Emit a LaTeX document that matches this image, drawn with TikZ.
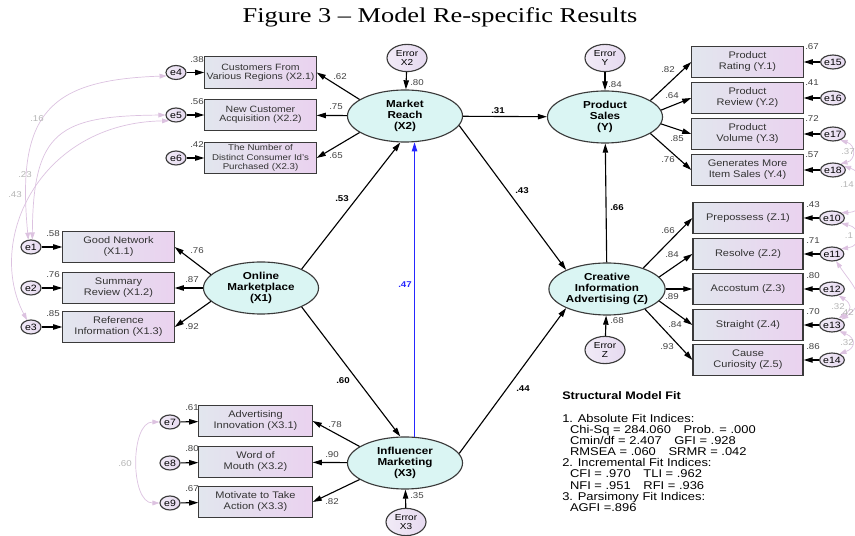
\documentclass[tikz,border=0pt]{standalone}
\usepackage{fontspec}
\setmainfont{Liberation Serif}[FakeStretch=1.25]
\setsansfont{Liberation Sans}[FakeStretch=1.15]
\usetikzlibrary{arrows.meta,shapes.geometric}
\definecolor{latentfill}{HTML}{DAF5F3}
\definecolor{itemleft}{HTML}{E2E6EE}
\definecolor{itemright}{HTML}{EAD2EF}
\definecolor{errorfill}{HTML}{E6DAF0}
\definecolor{covline}{HTML}{DCC2E0}
\definecolor{covtext}{HTML}{B4B4B4}
\definecolor{rim}{HTML}{3A3A3A}
\definecolor{blueline}{HTML}{2626FF}

\begin{document}
\begin{tikzpicture}[x=0.025cm,y=-0.025cm,>={Triangle[length=6.5pt,width=3.8pt]},
    latent/.style={ellipse,draw=rim,line width=.8pt,fill=latentfill,inner sep=0pt,minimum width=2.875cm,minimum height=1.3cm,align=center,font=\sffamily\bfseries\fontsize{7.2}{7.8}\selectfont},
    item/.style={rectangle,draw=rim,line width=.8pt,left color=itemleft,right color=itemright,inner sep=1pt,minimum width=2.78cm,minimum height=.78cm,align=center,text=black!80,font=\sffamily\fontsize{6.8}{7.8}\selectfont},
    resid/.style={ellipse,draw=rim,line width=.8pt,left color=errorfill!55!white,right color=errorfill,inner sep=0pt,minimum width=.5cm,minimum height=.35cm,font=\sffamily\fontsize{6.5}{6.5}\selectfont},
    disturb/.style={resid,minimum width=1cm,minimum height=.68cm,align=center,font=\sffamily\fontsize{6.2}{6.8}\selectfont},
    link/.style={->,line width=.8pt},
    cov/.style={arrows={Triangle[length=5pt,width=3.4pt]-Triangle[length=5pt,width=3.4pt]},draw=covline,line width=.5pt},
    coef/.style={inner sep=0pt,text=black!75,font=\sffamily\fontsize{6}{6}\selectfont},
    bcoef/.style={coef,text=black,font=\sffamily\bfseries\fontsize{6}{6}\selectfont},
    covcoef/.style={coef,text=covtext}]
    \useasboundingbox (0,0) rectangle (855,536);
    \node[anchor=base,font=\rmfamily\fontsize{15}{15}\selectfont] (title) at (440,23) {Figure 3 – Model Re-specific Results};

    \node[latent] (MR) at (405,116) {Market\\Reach\\(X2)};
    \node[latent] (PS) at (605,117) {Product\\Sales\\(Y)};
    \node[latent] (OM) at (261,288) {Online\\Marketplace\\(X1)};
    \node[latent] (IM) at (405,463) {Influencer\\Marketing\\(X3)};
    \node[latent,minimum width=2.8cm] (CIA) at (607,289) {Creative\\Information\\Advertising (Z)};

    \node[disturb] (EX2) at (407,58) {Error\\X2};
    \node[disturb] (EY) at (605,58) {Error\\Y};
    \node[disturb] (EZ) at (605,350) {Error\\Z};
    \node[disturb] (EX3) at (406,522) {Error\\X3};

    \node[item,font=\sffamily\fontsize{6.5}{6.7}\selectfont] (X21) at (260.5,72.5) {Customers From\\Various Regions (X2.1)};
    \node[item,font=\sffamily\fontsize{6.5}{6.7}\selectfont] (X22) at (260.5,115) {New Customer\\Acquisition (X2.2)};
    \node[item,font=\sffamily\fontsize{6}{6.6}\selectfont] (X23) at (260.5,158) {The Number of\\Distinct Consumer Id's\\Purchased (X2.3)};
    \foreach \n/\y/\t in {X11/247/{Good Network\\(X1.1)},X12/288/{Summary\\Review (X1.2)},X13/327/{Reference\\Information (X1.3)}}
        \node[item] (\n) at (118.5,\y) {\t};
    \foreach \n/\y/\t in {X31/421/{Advertising\\Innovation (X3.1)},X32/462/{Word of\\Mouth (X3.2)},X33/502/{Motivate to Take\\Action (X3.3)}}
        \node[item,minimum width=2.83cm] (\n) at (255.5,\y) {\t};
    \foreach \n/\y/\t in {Y1/62/{Product\\Rating (Y.1)},Y2/98/{Product\\Review (Y.2)},Y3/134/{Product\\Volume (Y.3)},Y4/170/{Generates More\\Item Sales (Y.4)}}
        \node[item] (\n) at (747.5,\y) {\t};
    \foreach \n/\y/\t in {Z1/218/{Prepossess (Z.1)},Z2/254/{Resolve (Z.2)},Z3/289/{Accostum (Z.3)},Z4/325/{Straight (Z.4)},Z5/360/{Cause\\Curiosity (Z.5)}}
        \node[item,minimum width=2.75cm] (\n) at (748,\y) {\t};

    \foreach \i/\n/\y/\r in {4/X21/72.5/.38,5/X22/115/.56,6/X23/158/.42}{
        \node[resid] (e\i) at (176,\y) {e\i};
        \draw[link] (e\i) -- (\n);
        \node[coef] (r\i) at (197,\y-13) {\r};
    }
    \foreach \i/\n/\y/\r in {1/X11/247/.58,2/X12/288/.76,3/X13/327/.85}{
        \node[resid] (e\i) at (31,\y) {e\i};
        \draw[link] (e\i) -- (\n);
        \node[coef] (r\i) at (53,\y-13) {\r};
    }
    \foreach \i/\n/\y/\r in {7/X31/422/.61,8/X32/463/.80,9/X33/503/.67}{
        \node[resid] (e\i) at (170,\y) {e\i};
        \draw[link] (e\i) -- (\n);
        \node[coef] (r\i) at (192,\y-14) {\r};
    }
    \foreach \i/\n/\y/\r in {15/Y1/62/.67,16/Y2/98/.41,17/Y3/134/.72,18/Y4/170/.57}{
        \node[resid] (e\i) at (833,\y) {e\i};
        \draw[link] (e\i) -- (\n);
        \node[coef] (r\i) at (812,\y-15) {\r};
    }
    \foreach \i/\n/\y/\r in {10/Z1/218/.43,11/Z2/254/.71,12/Z3/289/.80,13/Z4/325/.70,14/Z5/360/.86}{
        \node[resid] (e\i) at (832,\y) {e\i};
        \draw[link] (e\i) -- (\n);
        \node[coef] (r\i) at (813,\y-13) {\r};
    }

    \draw[link] (MR.160) -- (X21.east);
    \draw[link] (MR) -- (X22);
    \draw[link] (MR.-160) -- (X23.east);
    \draw[link] (OM.165) -- (X11.east);
    \draw[link] (OM) -- (X12);
    \draw[link] (OM.-165) -- (X13.east);
    \draw[link] (IM.160) -- (X31.east);
    \draw[link] (IM) -- (X32);
    \draw[link] (IM.-160) -- (X33.east);
    \draw[link] (PS.20) -- (Y1.west);
    \draw[link] (PS.7) -- (Y2.west);
    \draw[link] (PS.-7) -- (Y3.west);
    \draw[link] (PS.-20) -- (Y4.west);
    \draw[link] (CIA.30) -- (Z1.west);
    \draw[link] (CIA.13) -- (Z2.west);
    \draw[link] (CIA) -- (Z3);
    \draw[link] (CIA.-13) -- (Z4.west);
    \draw[link] (CIA.-28) -- (Z5.west);

    \draw[link] (EX2) -- (MR);
    \draw[link] (EY) -- (PS);
    \draw[link] (EZ) -- (CIA);
    \draw[link] (EX3) -- (IM);
    \draw[link] (OM.25) -- (MR.-100);
    \draw[link] (OM.-25) -- (IM.100);
    \draw[link,draw=blueline] (IM.70) -- (MR.-70);
    \draw[link] (MR) -- (PS);
    \draw[link] (MR.-10) -- (CIA.155);
    \draw[link] (IM.10) -- (CIA.-155);
    \draw[link] (CIA) -- (PS);

    \node[coef] (k21) at (340,77) {.62};
    \node[coef] (k22) at (336,107) {.75};
    \node[coef] (k23) at (336,156) {.65};
    \node[coef] (kX2) at (417,83) {.80};
    \node[coef] (kY) at (615,85) {.84};
    \node[coef] (kY1) at (668,70) {.82};
    \node[coef] (kY2) at (672,96) {.64};
    \node[coef] (kY3) at (677,139) {.85};
    \node[coef] (kY4) at (668,160) {.76};
    \node[coef] (k11) at (197,251) {.76};
    \node[coef] (k12) at (192,280) {.87};
    \node[coef] (k13) at (192,327) {.92};
    \node[coef] (kZ1) at (668,231) {.66};
    \node[coef] (kZ2) at (672,255) {.84};
    \node[coef] (kZ3) at (672,297) {.89};
    \node[coef] (kZ4) at (675,325) {.84};
    \node[coef] (kZ5) at (667,347) {.93};
    \node[coef] (kZ) at (617,321) {.68};
    \node[coef] (k31) at (335,425) {.78};
    \node[coef] (k32) at (332,455) {.90};
    \node[coef] (k33) at (332,502) {.82};
    \node[coef] (kX3) at (417,496) {.35};
    \node[bcoef] (bOMMR) at (342,199) {.53};
    \node[bcoef] (bMRPS) at (498,111) {.31};
    \node[bcoef] (bMRCIA) at (522,191) {.43};
    \node[bcoef] (bCIAPS) at (617,208) {.66};
    \node[bcoef,text=blueline] (bIMMR) at (405,285) {.47};
    \node[bcoef] (bOMIM) at (343,381) {.60};
    \node[bcoef] (bIMCIA) at (523,389) {.44};

    \draw[cov] (e4.200) .. controls (50,80) and (16,112) .. (e1.110);
    \draw[cov] (e5.180) .. controls (60,116) and (33,130) .. (e1.80);
    \draw[cov] (e5.220) .. controls (40,123) and (-15,240) .. (e3.120);
    \draw[cov] (e7.180) .. controls (130,422) and (130,503) .. (e9.180);
    \draw[cov] (e17.-40) .. controls (856,145) and (856,160) .. (e18.40);
    \draw[cov] (e18.20) .. controls (870,175) and (870,212) .. (e10.30);
    \draw[cov] (e10.-30) .. controls (862,228) and (862,246) .. (e11.30);
    \draw[cov] (e11.-60) .. controls (852,285) and (870,300) .. (e13.30);
    \draw[cov] (e12.-45) .. controls (852,304) and (852,310) .. (e13.45);
    \draw[cov] (e13.-40) .. controls (856,338) and (856,348) .. (e14.40);
    \node[covcoef] (c41) at (37,119) {.16};
    \node[covcoef] (c51) at (25,175) {.23};
    \node[covcoef] (c53) at (15,195) {.43};
    \node[covcoef] (c79) at (125,464) {.60};
    \node[covcoef] (c1718) at (848,152) {.37};
    \node[covcoef] (c1810) at (847,185) {.14};
    \node[covcoef] (c1011) at (849,236) {.1};
    \node[covcoef] (c1213) at (838,307) {.32};
    \node[covcoef] (c1113) at (847,313) {.42};
    \node[covcoef] (c1314) at (847,343) {.32};

    \node[anchor=west,inner sep=0pt,font=\sffamily\bfseries\fontsize{7.8}{8}\selectfont] (fithead) at (562,396) {Structural Model Fit};
    \node[anchor=north west,align=left,inner sep=0pt,font=\sffamily\fontsize{8}{7.9}\selectfont] (fitbody) at (562,414) {1. Absolute Fit Indices:\\
        \hspace*{5.5pt}Chi-Sq = 284.060\hspace{9pt}Prob. = .000\\
        \hspace*{5.5pt}Cmin/df = 2.407\hspace{9pt}GFI = .928\\
        \hspace*{5.5pt}RMSEA = .060\hspace{9pt}SRMR = .042\\
        2. Incremental Fit Indices:\\
        \hspace*{5.5pt}CFI = .970\hspace{9pt}TLI = .962\\
        \hspace*{5.5pt}NFI = .951\hspace{9pt}RFI = .936\\
        3. Parsimony Fit Indices:\\
        \hspace*{5.5pt}AGFI =.896};
\end{tikzpicture}
\end{document}
